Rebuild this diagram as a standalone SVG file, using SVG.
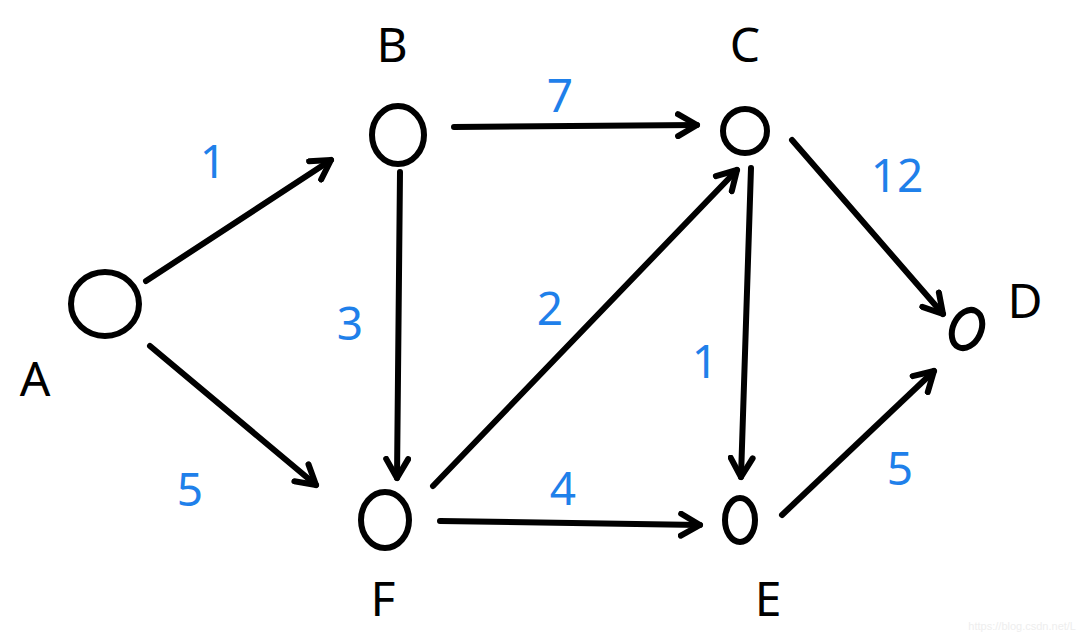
<svg xmlns="http://www.w3.org/2000/svg" width="1080" height="639" viewBox="0 0 1080 639">
<defs>
<marker id="arr" viewBox="-22 -14 26 28" refX="0" refY="0" markerWidth="26" markerHeight="28" markerUnits="userSpaceOnUse" orient="auto">
<path d="M -19 -11 L 0 0 L -19 11" fill="none" stroke="#000" stroke-width="6" stroke-linecap="round" stroke-linejoin="round"/>
</marker>
<style>
.node{fill:none;stroke:#000;stroke-width:6}
.edge{fill:none;stroke:#000;stroke-width:6;stroke-linecap:round;marker-end:url(#arr)}
.lbl{font-family:"Noto Sans","DejaVu Sans",sans-serif;font-size:48px;fill:#000;text-anchor:middle}
.w{font-family:"Noto Sans","DejaVu Sans",sans-serif;font-size:46px;fill:#1f80ea;text-anchor:middle}
.wm{font-family:"Liberation Sans",sans-serif;font-size:11px;fill:#eeeeee;text-anchor:end}
</style>
</defs>
<rect width="1080" height="639" fill="#fff"/>
<g id="connectors">
<path class="edge" d="M 146 281 L 331 160"/>
<path class="edge" d="M 150 346 L 316 485"/>
<path class="edge" d="M 454 127 L 697 125"/>
<path class="edge" d="M 400 172 L 397 478"/>
<path class="edge" d="M 433 486 L 737 170"/>
<path class="edge" d="M 440 521 L 700 525"/>
<path class="edge" d="M 751 168 L 741 477"/>
<path class="edge" d="M 792 140 L 943 314"/>
<path class="edge" d="M 782 515 L 934 371"/>
<text class="w" x="213" y="178">1</text>
<text class="w" x="190" y="506">5</text>
<text class="w" x="560" y="112">7</text>
<text class="w" x="350" y="340">3</text>
<text class="w" x="550" y="325">2</text>
<text class="w" x="563" y="505">4</text>
<text class="w" x="705" y="378">1</text>
<text class="w" x="897" y="192">12</text>
<text class="w" x="900" y="485">5</text>
</g>
<g id="node-A">
<ellipse class="node" cx="105" cy="304" rx="34" ry="32"/>
<text class="lbl" x="35" y="396">A</text>
</g>
<g id="node-B">
<ellipse class="node" cx="398" cy="135" rx="26" ry="29"/>
<text class="lbl" x="392" y="62">B</text>
</g>
<g id="node-C">
<ellipse class="node" cx="745" cy="131" rx="22" ry="22"/>
<text class="lbl" x="745" y="62">C</text>
</g>
<g id="node-D">
<ellipse class="node" cx="967" cy="329" rx="14" ry="20" transform="rotate(25 967 329)"/>
<text class="lbl" x="1025" y="318">D</text>
</g>
<g id="node-E">
<ellipse class="node" cx="740" cy="520" rx="15" ry="22"/>
<text class="lbl" x="768" y="616">E</text>
</g>
<g id="node-F">
<ellipse class="node" cx="385" cy="520" rx="24" ry="28"/>
<text class="lbl" x="383" y="616">F</text>
</g>
<text class="wm" x="1076" y="630">https://blog.csdn.net/L</text>
</svg>
